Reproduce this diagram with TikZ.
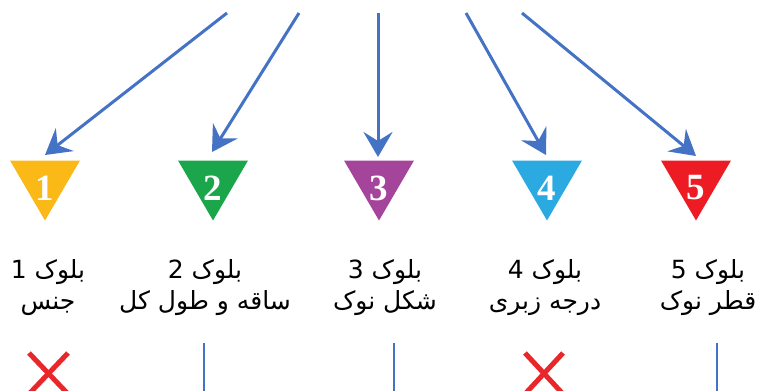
\documentclass[tikz,border=0pt]{standalone}
\usepackage{fontspec}
\usetikzlibrary{arrows.meta}
\TeXXeTstate=1
\newfontfamily\arabicfont[Script=Arabic]{DejaVu Sans}
\newfontfamily\numfont{Liberation Serif}
\definecolor{arrowblue}{HTML}{4472C4}
\definecolor{tyellow}{HTML}{FBB918}
\definecolor{tgreen}{HTML}{1BA64B}
\definecolor{tpurple}{HTML}{A4449B}
\definecolor{tblue}{HTML}{2BAAE2}
\definecolor{tred}{HTML}{ED1C24}
\definecolor{xred}{HTML}{E9262A}
\tikzset{
  conn/.style={draw=arrowblue, line width=3pt, -{Stealth[length=25pt,width=29pt,inset=9pt]}},
  vline/.style={draw=arrowblue, line width=2.6pt},
  num/.style={text=white, font=\numfont\bfseries\fontsize{37}{37}\selectfont, inner sep=0pt},
  lbl/.style={font=\arabicfont\fontsize{25}{31}\selectfont, align=center, inner sep=0pt},
  xmark/.style={draw=xred, line width=5pt}
}
\newcommand{\tri}[3]{% x, color, number
  \fill[#2] (#1-35,160.5) -- (#1+35,160.5) -- (#1,220.5) -- cycle;
  \node[num] (n#3) at (#1,188) {#3};
}
\begin{document}
\begin{tikzpicture}[x=1pt,y=-1pt]
\useasboundingbox (0,0) rectangle (758,391);
\clip (0,0) rectangle (758,391);
% triangles
\tri{45}{tyellow}{1}
\tri{213}{tgreen}{2}
\tri{379}{tpurple}{3}
\tri{547}{tblue}{4}
\tri{696}{tred}{5}
% arrow start and end points
\coordinate (s1) at (227,13);
\coordinate (s2) at (299,13);
\coordinate (s3) at (378,13);
\coordinate (s4) at (466,13);
\coordinate (s5) at (522,13);
\coordinate (e1) at (45,155);
\coordinate (e2) at (212,152);
\coordinate (e3) at (378,157);
\coordinate (e4) at (546,155);
\coordinate (e5) at (696,156);
\draw[conn] (s1) -- (e1);
\draw[conn] (s2) -- (e2);
\draw[conn] (s3) -- (e3);
\draw[conn] (s4) -- (e4);
\draw[conn] (s5) -- (e5);
% labels
\node[lbl] (l1) at (48,288) {\beginR بلوک 1\endR\\\beginR جنس\endR};
\node[lbl] (l2) at (205,288) {\beginR بلوک 2\endR\\\beginR ساقه و طول کل\endR};
\node[lbl] (l3) at (385,288) {\beginR بلوک 3\endR\\\beginR شکل نوک\endR};
\node[lbl] (l4) at (545,288) {\beginR بلوک 4\endR\\\beginR درجه زبری\endR};
\node[lbl] (l5) at (708,288) {\beginR بلوک 5\endR\\\beginR قطر نوک\endR};
% bottom lines
\coordinate (v2a) at (204,343); \coordinate (v2b) at (204,395);
\coordinate (v3a) at (394,343); \coordinate (v3b) at (394,395);
\coordinate (v5a) at (717,343); \coordinate (v5b) at (717,395);
\draw[vline] (v2a) -- (v2b);
\draw[vline] (v3a) -- (v3b);
\draw[vline] (v5a) -- (v5b);
% red crosses
\coordinate (x1a) at (29,353); \coordinate (x1b) at (68,394);
\coordinate (x1c) at (68,353); \coordinate (x1d) at (29,394);
\draw[xmark] (x1a) -- (x1b);
\draw[xmark] (x1c) -- (x1d);
\coordinate (x4a) at (525,353); \coordinate (x4b) at (563,394);
\coordinate (x4c) at (563,353); \coordinate (x4d) at (525,394);
\draw[xmark] (x4a) -- (x4b);
\draw[xmark] (x4c) -- (x4d);
\end{tikzpicture}
\end{document}
